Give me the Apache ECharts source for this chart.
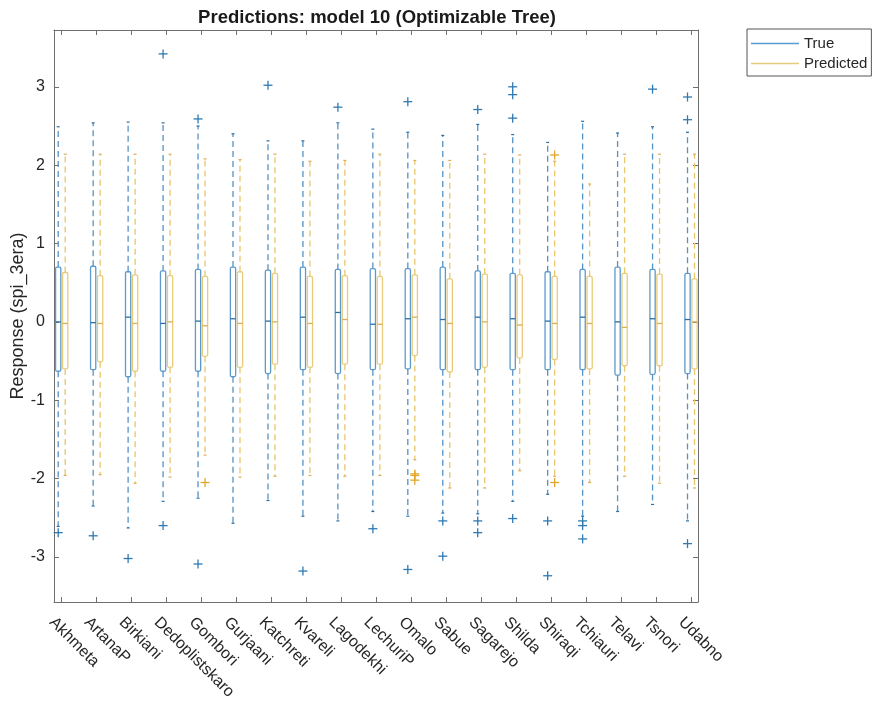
<!DOCTYPE html>
<html>
<head>
<meta charset="utf-8">
<script src="https://cdn.jsdelivr.net/npm/echarts@6/dist/echarts.min.js"></script>
<style>html,body{margin:0;padding:0;background:#fff;}#chart{width:874px;height:701px;}</style>
</head>
<body>
<div id="chart"></div>
<script>
const categories = ['Akhmeta','ArtanaP','Birkiani','Dedoplistskaro','Gombori','Gurjaani','Katchreti','Kvareli','Lagodekhi','LechuriP','Omalo','Sabue','Sagarejo','Shilda','Shiraqi','Tchiauri','Telavi','Tsnori','Udabno'];

// True (observed) box statistics
const trueLow  = [-2.61,-2.35,-2.63,-2.29,-2.25,-2.57,-2.28,-2.48,-2.54,-2.42,-2.48,-2.44,-2.45,-2.29,-2.20,-2.48,-2.42,-2.33,-2.54];
const trueQ1   = [-0.63,-0.61,-0.70,-0.63,-0.63,-0.70,-0.66,-0.61,-0.66,-0.61,-0.60,-0.61,-0.61,-0.61,-0.61,-0.61,-0.68,-0.67,-0.66];
const trueMed  = [0.00,-0.01,0.06,-0.02,0.01,0.04,0.01,0.06,0.12,-0.03,0.04,0.03,0.06,0.04,0.01,0.06,0.00,0.04,0.03];
const trueQ3   = [0.70,0.71,0.64,0.65,0.67,0.70,0.66,0.70,0.67,0.68,0.68,0.70,0.65,0.62,0.64,0.67,0.70,0.67,0.62];
const trueHigh = [2.49,2.54,2.55,2.54,2.50,2.40,2.31,2.31,2.54,2.46,2.42,2.38,2.52,2.39,2.29,2.56,2.41,2.49,2.42];
const trueOutliers = [[-2.69],[-2.73],[-3.02],[3.42,-2.60],[2.59,-3.09],[],[3.02],[-3.18],[2.74],[-2.64],[2.81,-3.16],[-2.54,-2.99],[2.71,-2.54,-2.69],[3.00,2.90,2.60,-2.51],[-2.54,-3.24],[-2.54,-2.60,-2.77],[],[2.97],[2.87,2.58,-2.83]];

// Predicted box statistics
const predLow  = [-1.96,-1.95,-2.06,-1.98,-1.70,-1.98,-1.97,-1.96,-1.97,-1.96,-1.76,-2.12,-2.12,-1.90,-1.97,-2.05,-1.97,-2.06,-2.12];
const predQ1   = [-0.60,-0.51,-0.63,-0.58,-0.44,-0.58,-0.54,-0.58,-0.54,-0.54,-0.43,-0.64,-0.58,-0.46,-0.48,-0.60,-0.56,-0.56,-0.60];
const predMed  = [-0.02,-0.02,-0.02,0.00,-0.05,-0.02,0.00,-0.02,0.03,-0.03,0.06,-0.02,0.00,-0.04,-0.02,-0.02,-0.07,-0.02,0.00];
const predQ3   = [0.63,0.59,0.60,0.59,0.58,0.64,0.62,0.58,0.59,0.58,0.60,0.55,0.61,0.60,0.58,0.58,0.62,0.61,0.55];
const predHigh = [2.14,2.14,2.14,2.14,2.08,2.07,2.14,2.05,2.06,2.14,2.06,2.06,2.14,2.13,2.05,1.76,2.14,2.14,2.14];
const predOutliers = [[],[],[],[],[-2.05],[],[],[],[],[],[-1.94,-1.96,-2.02],[],[],[],[2.13,-2.05],[],[],[],[]];

const yTicks = [-3,-2,-1,0,1,2,3];

function boxData(lo,q1,md,q3,hi){return categories.map((c,i)=>[i+1,lo[i],q1[i],md[i],q3[i],hi[i]]);}
function outData(o){const r=[];o.forEach((arr,i)=>arr.forEach(v=>r.push([i+1,v])));return r;}

const FONT = "'Liberation Sans', Arial, sans-serif";
const BOX_W = 0.15;
const AX = '#6f6f6f';

function boxRenderer(offset, boxColor, medColor, whiskColor){
  return function(params, api){
    const x = api.value(0) + offset;
    const lo = api.coord([x, api.value(1)]);
    const q1 = api.coord([x, api.value(2)]);
    const md = api.coord([x, api.value(3)]);
    const q3 = api.coord([x, api.value(4)]);
    const hi = api.coord([x, api.value(5)]);
    const w = api.size([BOX_W, 0])[0];
    const cx = q1[0];
    const ws = {stroke: whiskColor, lineWidth: 1.3, lineDash: [6,4]};
    return {type:'group', children:[
      {type:'line', shape:{x1:cx,y1:q3[1],x2:cx,y2:hi[1]}, style:ws},
      {type:'line', shape:{x1:cx,y1:q1[1],x2:cx,y2:lo[1]}, style:ws},
      {type:'line', shape:{x1:cx-1.5,y1:hi[1],x2:cx+1.5,y2:hi[1]}, style:{stroke:medColor,lineWidth:1.2}},
      {type:'line', shape:{x1:cx-1.5,y1:lo[1],x2:cx+1.5,y2:lo[1]}, style:{stroke:medColor,lineWidth:1.2}},
      {type:'rect', shape:{x:cx-w/2, y:q3[1], width:w, height:q1[1]-q3[1], r:1.5}, style:{fill:'none', stroke:boxColor, lineWidth:1.3}},
      {type:'line', shape:{x1:cx-w/2,y1:md[1],x2:cx+w/2,y2:md[1]}, style:{stroke:medColor,lineWidth:1.3}}
    ]};
  };
}
function plusRenderer(offset, color){
  return function(params, api){
    const p = api.coord([api.value(0)+offset, api.value(1)]);
    const s = 4.5;
    return {type:'group', children:[
      {type:'line', shape:{x1:p[0]-s,y1:p[1],x2:p[0]+s,y2:p[1]}, style:{stroke:color,lineWidth:1.3}},
      {type:'line', shape:{x1:p[0],y1:p[1]-s,x2:p[0],y2:p[1]+s}, style:{stroke:color,lineWidth:1.3}}
    ]};
  };
}

const isInt = v => Math.abs(v - Math.round(v)) < 1e-6;

const chart = echarts.init(document.getElementById('chart'), null, {renderer:'canvas'});
chart.setOption({
  animation: false,
  backgroundColor: '#fff',
  title: {
    text: 'Predictions: model 10 (Optimizable Tree)',
    left: 372, top: 3, textAlign: 'center',
    textStyle: {fontFamily: FONT, fontSize: 18.5, fontWeight: 'bold', color: '#1a1a1a'}
  },
  legend: {
    orient: 'vertical', left: 747, top: 29,
    padding: [7, 4, 5, 4], itemGap: 5,
    itemWidth: 48, itemHeight: 1.5,
    borderColor: '#555', borderWidth: 1,
    textStyle: {fontFamily: FONT, fontSize: 15, color: '#262626'},
    data: [{name:'True', icon:'rect'}, {name:'Predicted', icon:'rect'}]
  },
  grid: {left: 54, right: 176, top: 30, bottom: 99, containLabel: false, outerBoundsMode: 'none'},
  xAxis: [
    {type:'value', position:'bottom', min:0.78, max:19.2, minInterval:1, maxInterval:1,
     axisLine:{show:true, onZero:false, lineStyle:{color:AX, width:1}},
     axisTick:{show:true, inside:true, length:5, lineStyle:{color:AX}},
     splitLine:{show:false},
     axisLabel:{show:true, rotate:-45, margin:8, verticalAlign:'top', align:'left', padding:[6,0,0,0],
       fontFamily:FONT, fontSize:16, color:'#262626',
       formatter: v => (isInt(v) && v>=1 && v<=categories.length) ? categories[Math.round(v)-1] : ''}},
    {type:'value', position:'top', min:0.78, max:19.2, minInterval:1, maxInterval:1,
     axisLine:{show:true, onZero:false, lineStyle:{color:AX, width:1}},
     axisTick:{show:true, inside:true, length:5, lineStyle:{color:AX}},
     splitLine:{show:false}, axisLabel:{show:false}}
  ],
  yAxis: [
    {type:'value', position:'left', min:-3.575, max:3.725, minInterval:1, maxInterval:1,
     name:'Response (spi_3era)', nameLocation:'middle', nameGap:27, nameMoveOverlap:false,
     nameTextStyle:{fontFamily:FONT, fontSize:18, color:'#262626'},
     axisLine:{show:true, onZero:false, lineStyle:{color:AX, width:1}},
     axisTick:{show:true, inside:true, length:5, lineStyle:{color:AX}},
     splitLine:{show:false},
     axisLabel:{fontFamily:FONT, fontSize:16, color:'#262626', margin:9,
       formatter: v => { const r = Math.round(v); return (isInt(v) && yTicks.indexOf(r)>=0) ? String(r) : ''; }}},
    {type:'value', position:'right', min:-3.575, max:3.725, minInterval:1, maxInterval:1,
     axisLine:{show:true, onZero:false, lineStyle:{color:AX, width:1}},
     axisTick:{show:true, inside:true, length:5, lineStyle:{color:AX}},
     splitLine:{show:false}, axisLabel:{show:false}}
  ],
  series: [
    {name:'True', type:'custom', color:'#5a9bd0', xAxisIndex:0, yAxisIndex:0, clip:false,
     encode:{x:0, y:[1,2,3,4,5]},
     renderItem: boxRenderer(-0.1, '#5b9acb', '#2b6ea3', '#5592c6'),
     data: boxData(trueLow,trueQ1,trueMed,trueQ3,trueHigh)},
    {name:'Predicted', type:'custom', color:'#e3cb7e', xAxisIndex:0, yAxisIndex:0, clip:false,
     encode:{x:0, y:[1,2,3,4,5]},
     renderItem: boxRenderer(0.1, '#eacb7a', '#d9ae55', '#e8c66c'),
     data: boxData(predLow,predQ1,predMed,predQ3,predHigh)},
    {name:'True outliers', type:'custom', xAxisIndex:0, yAxisIndex:0, clip:false,
     encode:{x:0, y:1},
     renderItem: plusRenderer(-0.1, '#2f7ab3'),
     data: outData(trueOutliers)},
    {name:'Predicted outliers', type:'custom', xAxisIndex:0, yAxisIndex:0, clip:false,
     encode:{x:0, y:1},
     renderItem: plusRenderer(0.1, '#e0a72a'),
     data: outData(predOutliers)}
  ]
});
</script>
</body>
</html>
